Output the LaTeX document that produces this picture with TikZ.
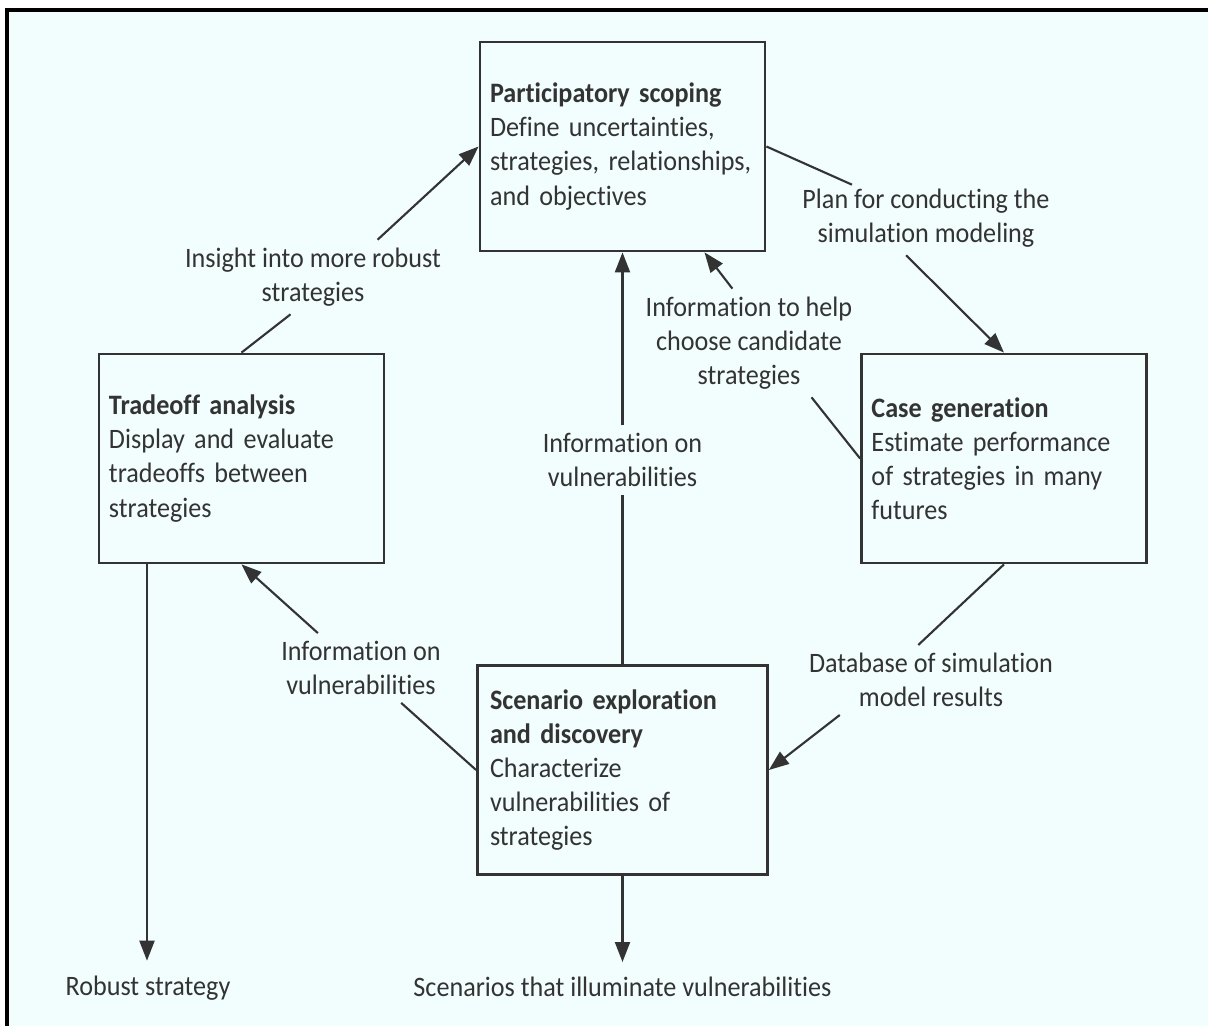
\documentclass[tikz,border=0pt]{standalone}
\usepackage{fontspec}
\setmainfont{Carlito}[FakeStretch=0.93,Ligatures=NoCommon]
\usetikzlibrary{arrows.meta,calc}
\definecolor{paper}{HTML}{F2FDFE}
\definecolor{ink}{HTML}{333333}
\def\boxwidth{2.85cm}
\def\boxheight{2.09cm}
\hyphenpenalty=10000

\begin{document}
\begin{tikzpicture}[-{Triangle[length=0.2cm,width=0.15cm]},draw=ink,line width=0.6pt,
    font=\fontsize{8pt}{9.7pt}\selectfont,text=ink]
    \tikzstyle{stage}=[-,draw,rectangle,line width=0.8pt,minimum width=\boxwidth,
        minimum height=\boxheight,text width=2.65cm,inner xsep=0.1cm,align=left]
    \tikzstyle{annot}=[align=center,inner sep=2pt]

    % Page and frame
    \useasboundingbox (0,0) rectangle (12.08,-10.26);
    \fill[paper] (0.07,-0.10) rectangle (12.08,-10.26);
    \draw[-,line width=1.2pt,black] (0.07,-10.26) -- (0.07,-0.10) -- (12.08,-0.10);

    % The four stages
    \node[stage] (scope) at (6.225,-1.465)
        {\textbf{Participatory scoping}\\Define uncertainties,\\strategies, relationships,\\and objectives};
    \node[stage] (trade) at (2.415,-4.585)
        {\textbf{Tradeoff analysis}\\Display and evaluate\\tradeoffs between\\strategies};
    \node[stage] (cases) at (10.04,-4.585)
        {\textbf{Case generation}\\Estimate performance\\of strategies in many\\futures};
    \node[stage,minimum width=2.9cm] (explore) at (6.225,-7.70)
        {\textbf{Scenario exploration}\\\textbf{and discovery}\\Characterize\\vulnerabilities of\\strategies};

    % Labels on the connectors
    \node[annot] (insight) at (3.13,-2.77) {Insight into more robust\\strategies};
    \node[annot] (plan) at (9.26,-2.18) {Plan for conducting the\\simulation modeling};
    \node[annot] (choose) at (7.49,-3.43) {Information to help\\choose candidate\\strategies};
    \node[annot] (vulnmid) at (6.225,-4.60) {Information on\\vulnerabilities};
    \node[annot] (database) at (9.31,-6.80) {Database of simulation\\model results};
    \node[annot] (vulnleft) at (3.61,-6.68) {Information on\\vulnerabilities};
    \node[annot] (robust) at (1.48,-9.88) {Robust strategy};
    \node[annot] (scenarios) at (6.225,-9.87) {Scenarios that illuminate vulnerabilities};

    \coordinate (scopein) at ($(scope.south)+(0.82,0)$);
    \coordinate (tradeout) at ($(trade.south)+(-0.945,0)$);
    \coordinate (planin) at ($(plan.north)+(-0.74,-0.04)$);

    % Connect the stages through their labels
    \draw[-] (trade.north) -- (insight.239);
    \draw (insight.30) -- (scope.west);
    \draw[-] (scope.east) -- (planin);
    \draw (plan.242) -- (cases.north);
    \draw[-] (cases.west) -- (choose.319);
    \draw (choose.107) -- (scopein);
    \draw[-] (explore.north) -- (vulnmid.south);
    \draw (vulnmid.north) -- (scope.south);
    \draw[-] (cases.south) -- (database.110);
    \draw (database.201) -- (explore.east);
    \draw[-] (explore.west) -- (vulnleft.319);
    \draw (vulnleft.141) -- (trade.south);

    % Outputs
    \draw[shorten >=2pt] (tradeout) -- (tradeout |- robust.north);
    \draw[shorten >=2pt] (explore.south) -- (scenarios.north);
\end{tikzpicture}
\end{document}
